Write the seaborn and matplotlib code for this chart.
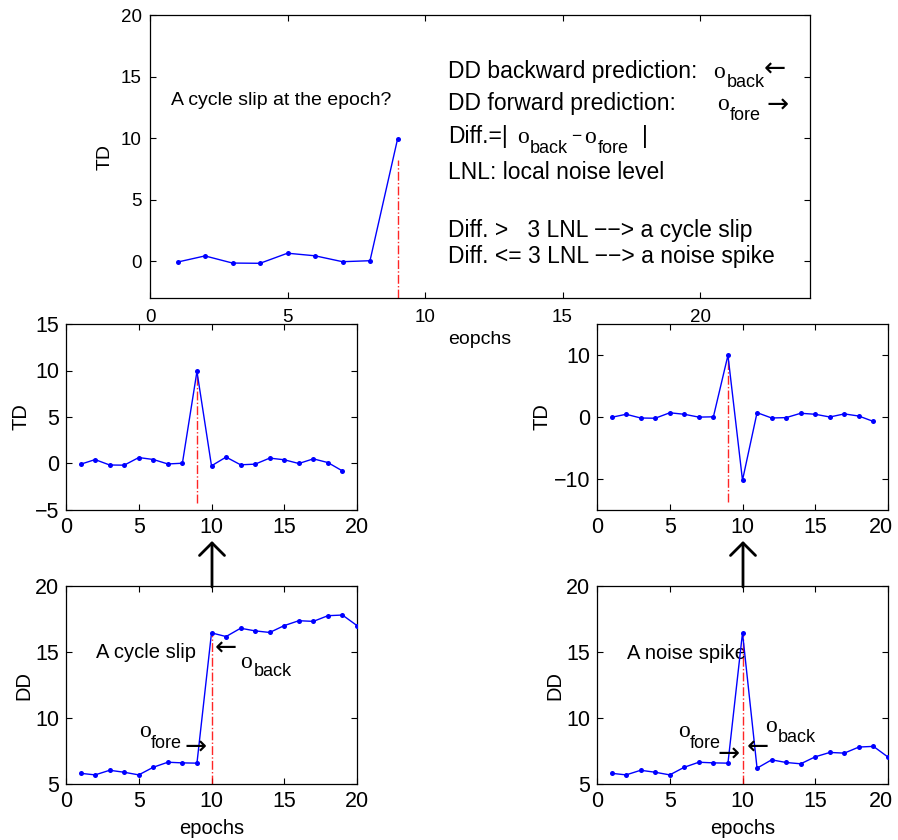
import numpy as np
import pandas as pd
import matplotlib
matplotlib.use("Agg")
import matplotlib.pyplot as plt
import matplotlib.transforms as mtransforms
from matplotlib.patches import FancyArrowPatch
import seaborn as sns

# ---------------- data ----------------
td_epochs = list(range(1, 20))
td_slip = [-0.08, 0.42, -0.16, -0.18, 0.64, 0.43, -0.05, 0.03, 9.9, -0.25,
           0.69, -0.14, -0.07, 0.58, 0.40, 0.0, 0.5, 0.1, -0.8]
td_spike = [-0.05, 0.44, -0.16, -0.2, 0.68, 0.44, -0.02, 0.03, 9.95, -10.2,
            0.7, -0.16, -0.1, 0.6, 0.44, 0.0, 0.5, 0.15, -0.72]
top_epochs = list(range(1, 10))
top_td = td_slip[:9]

dd_epochs = list(range(1, 21))
dd_slip = [5.81, 5.69, 6.04, 5.89, 5.69, 6.27, 6.65, 6.6, 6.58, 16.45,
           16.17, 16.8, 16.6, 16.48, 17.0, 17.37, 17.32, 17.75, 17.8, 17.0]
dd_spike = [5.81, 5.69, 6.04, 5.89, 5.69, 6.27, 6.65, 6.6, 6.58, 16.45,
            6.2, 6.83, 6.63, 6.53, 7.06, 7.39, 7.34, 7.8, 7.85, 7.04]

# epoch under test (red dash-dot markers): (epoch, lower, upper)
test_top = (9, -3.0, 8.2)
test_ml = (9, -4.2, 9.9)
test_mr = (9, -13.7, 9.9)
test_bl = (10, 5.0, 16.3)
test_br = (10, 5.0, 16.3)

# ---------------- style ----------------
sns.set_theme(style="white")
plt.rcParams.update({
    "font.family": ["Liberation Sans", "DejaVu Sans"],
    "xtick.direction": "in", "ytick.direction": "in",
    "xtick.top": True, "ytick.right": True,
    "xtick.bottom": True, "ytick.left": True,
    "axes.edgecolor": "black", "axes.linewidth": 0.9,
    "xtick.color": "black", "ytick.color": "black",
    "text.color": "black", "axes.labelcolor": "black",
})

W, H = 898, 840
fig = plt.figure(figsize=(W / 100, H / 100), dpi=100)
fig.patch.set_facecolor("white")


def axes_px(l, t, r, b):
    return fig.add_axes([l / W, 1 - b / H, (r - l) / W, (b - t) / H])


def draw(ax, x, y, test, xlim, ylim, xticks, yticks, tick_fs, xpad, ypad):
    df = pd.DataFrame({"x": x, "y": y})
    sns.lineplot(data=df, x="x", y="y", ax=ax, color="#0000ff", linewidth=1.0,
                 marker="o", markersize=3.6, markeredgecolor="#0000ff",
                 markeredgewidth=0, sort=False, zorder=3)
    e, lo, hi = test
    ax.plot([e, e], [lo, hi], color="red", linestyle="-.", linewidth=1.0,
            alpha=0.85, zorder=2)
    ax.set_xlim(*xlim)
    ax.set_ylim(*ylim)
    ax.set_xticks(xticks)
    ax.set_yticks(yticks)
    ax.set_xticklabels([str(t) for t in xticks])
    ax.set_yticklabels([str(t).replace("-", "\u2212") for t in yticks])
    ax.tick_params(axis="x", labelsize=tick_fs, length=4, width=0.8, pad=xpad)
    ax.tick_params(axis="y", labelsize=tick_fs, length=4, width=0.8, pad=ypad)
    ax.set_xlabel("")
    ax.set_ylabel("")
    for s in ax.spines.values():
        s.set_visible(True)
        s.set_color("black")
        s.set_linewidth(0.9)


def set_labels(ax, xlabel, xlc, ylabel, ylc, fs=14.5):
    if xlabel:
        ax.set_xlabel(xlabel, fontsize=fs, va="center")
        ax.xaxis.set_label_coords(*xlc)
    if ylabel:
        ax.set_ylabel(ylabel, fontsize=fs, va="center")
        ax.yaxis.set_label_coords(*ylc)


def nudge_last_xtick(ax, dx_px):
    lab = ax.get_xticklabels()[-1]
    off = mtransforms.ScaledTranslation(dx_px / 100, 0, fig.dpi_scale_trans)
    lab.set_transform(lab.get_transform() + off)


# ---------------- top panel ----------------
ax_top = axes_px(150, 15, 810, 298)
draw(ax_top, top_epochs, top_td, test_top, (0, 24), (-3, 20),
     [0, 5, 10, 15, 20], [0, 5, 10, 15, 20], 13.5, 8, 6)
set_labels(ax_top, "eopchs", (0.5, -0.148), "TD", (-0.068, 0.5), fs=14)

serif = ["Liberation Serif", "DejaVu Serif"]
arrowf = ["DejaVu Sans"]
BIG = 16.5
SUB = 13
OMI = 17
ARR = 19

ax_top.text(0.76, 12.7, "A cycle slip at the epoch?", fontsize=14, va="baseline")
# line 1
ax_top.text(10.84, 14.88, "DD backward prediction:", fontsize=BIG, va="baseline")
ax_top.text(20.47, 14.88, "\u03bf", fontsize=OMI, family=serif, va="baseline")
ax_top.text(20.98, 14.15, "back", fontsize=SUB, va="baseline")
ax_top.text(22.3, 15.6, "\u2190", fontsize=ARR, family=arrowf, va="center")
# line 2
ax_top.text(10.84, 12.28, "DD forward prediction:", fontsize=BIG, va="baseline")
ax_top.text(20.62, 12.28, "\u03bf", fontsize=OMI, family=serif, va="baseline")
ax_top.text(21.09, 11.46, "fore", fontsize=SUB, va="baseline")
ax_top.text(22.4, 12.68, "\u2192", fontsize=ARR, family=arrowf, va="center")
# line 3
ax_top.text(10.84, 9.59, "Diff.=|", fontsize=BIG, va="baseline")
ax_top.text(13.35, 9.59, "\u03bf", fontsize=OMI, family=serif, va="baseline")
ax_top.text(13.82, 8.78, "back", fontsize=SUB, va="baseline")
ax_top.text(15.3, 9.75, "\u2212", fontsize=12.5, va="baseline")
ax_top.text(15.8, 9.59, "\u03bf", fontsize=OMI, family=serif, va="baseline")
ax_top.text(16.27, 8.78, "fore", fontsize=SUB, va="baseline")
ax_top.text(17.88, 9.59, "|", fontsize=BIG, va="baseline")
# line 4-6
ax_top.text(10.84, 6.67, "LNL: local noise level", fontsize=BIG, va="baseline")
ax_top.text(10.84, 1.95, "Diff. >   3 LNL \u2212\u2212> a cycle slip",
            fontsize=BIG, va="baseline")
ax_top.text(10.84, -0.16, "Diff. <= 3 LNL \u2212\u2212> a noise spike",
            fontsize=BIG, va="baseline")

# ---------------- middle panels ----------------
ax_ml = axes_px(66, 324, 357, 510)
draw(ax_ml, td_epochs, td_slip, test_ml, (0, 20), (-5, 15),
     [0, 5, 10, 15, 20], [-5, 0, 5, 10, 15], 15.5, 5, 5)
set_labels(ax_ml, None, None, "TD", (-0.155, 0.5))

ax_mr = axes_px(597, 324, 888, 510)
draw(ax_mr, td_epochs, td_spike, test_mr, (0, 20), (-15, 15),
     [0, 5, 10, 15, 20], [-10, 0, 10], 15.5, 5, 5)
set_labels(ax_mr, None, None, "TD", (-0.189, 0.5))
nudge_last_xtick(ax_mr, -7)

# ---------------- bottom panels ----------------
ax_bl = axes_px(66, 586, 357, 784)
draw(ax_bl, dd_epochs, dd_slip, test_bl, (0, 20), (5, 20),
     [0, 5, 10, 15, 20], [5, 10, 15, 20], 15.5, 5, 5)
set_labels(ax_bl, "epochs", (0.5, -0.225), "DD", (-0.144, 0.5))

ax_bl.text(2.06, 15.0, "A cycle slip", fontsize=14.5, va="center")
ax_bl.text(10.2, 15.3, "\u2190", fontsize=ARR, family=arrowf, va="center")
ax_bl.text(11.96, 13.79, "\u03bf", fontsize=OMI, family=serif, va="baseline")
ax_bl.text(12.92, 13.18, "back", fontsize=SUB, va="baseline")
ax_bl.text(5.05, 8.56, "\u03bf", fontsize=OMI, family=serif, va="baseline")
ax_bl.text(5.84, 7.73, "fore", fontsize=SUB, va="baseline")
ax_bl.text(8.12, 7.8, "\u2192", fontsize=ARR, family=arrowf, va="center")

ax_br = axes_px(597, 586, 888, 784)
draw(ax_br, dd_epochs, dd_spike, test_br, (0, 20), (5, 20),
     [0, 5, 10, 15, 20], [5, 10, 15, 20], 15.5, 5, 5)
set_labels(ax_br, "epochs", (0.5, -0.225), "DD", (-0.144, 0.5))
nudge_last_xtick(ax_br, -7)

ax_br.text(2.06, 14.92, "A noise spike", fontsize=14.5, va="center", zorder=1)
ax_br.text(5.57, 8.56, "\u03bf", fontsize=OMI, family=serif, va="baseline")
ax_br.text(6.39, 7.73, "fore", fontsize=SUB, va="baseline")
ax_br.text(8.25, 7.2, "\u2192", fontsize=ARR, family=arrowf, va="center")
ax_br.text(11.55, 8.94, "\u03bf", fontsize=OMI, family=serif, va="baseline")
ax_br.text(12.44, 8.18, "back", fontsize=SUB, va="baseline")
ax_br.text(10.27, 7.8, "\u2190", fontsize=ARR, family=arrowf, va="center")

# ---------------- connecting arrows ----------------
for xp in (212, 743):
    arr = FancyArrowPatch((xp / W, 1 - 587 / H), (xp / W, 1 - 541 / H),
                          transform=fig.transFigure,
                          arrowstyle="->,head_length=0.9,head_width=0.9",
                          mutation_scale=10, lw=2.0, color="black",
                          shrinkA=0, shrinkB=0)
    fig.add_artist(arr)

fig.savefig("out.png", dpi=100, facecolor="white")
